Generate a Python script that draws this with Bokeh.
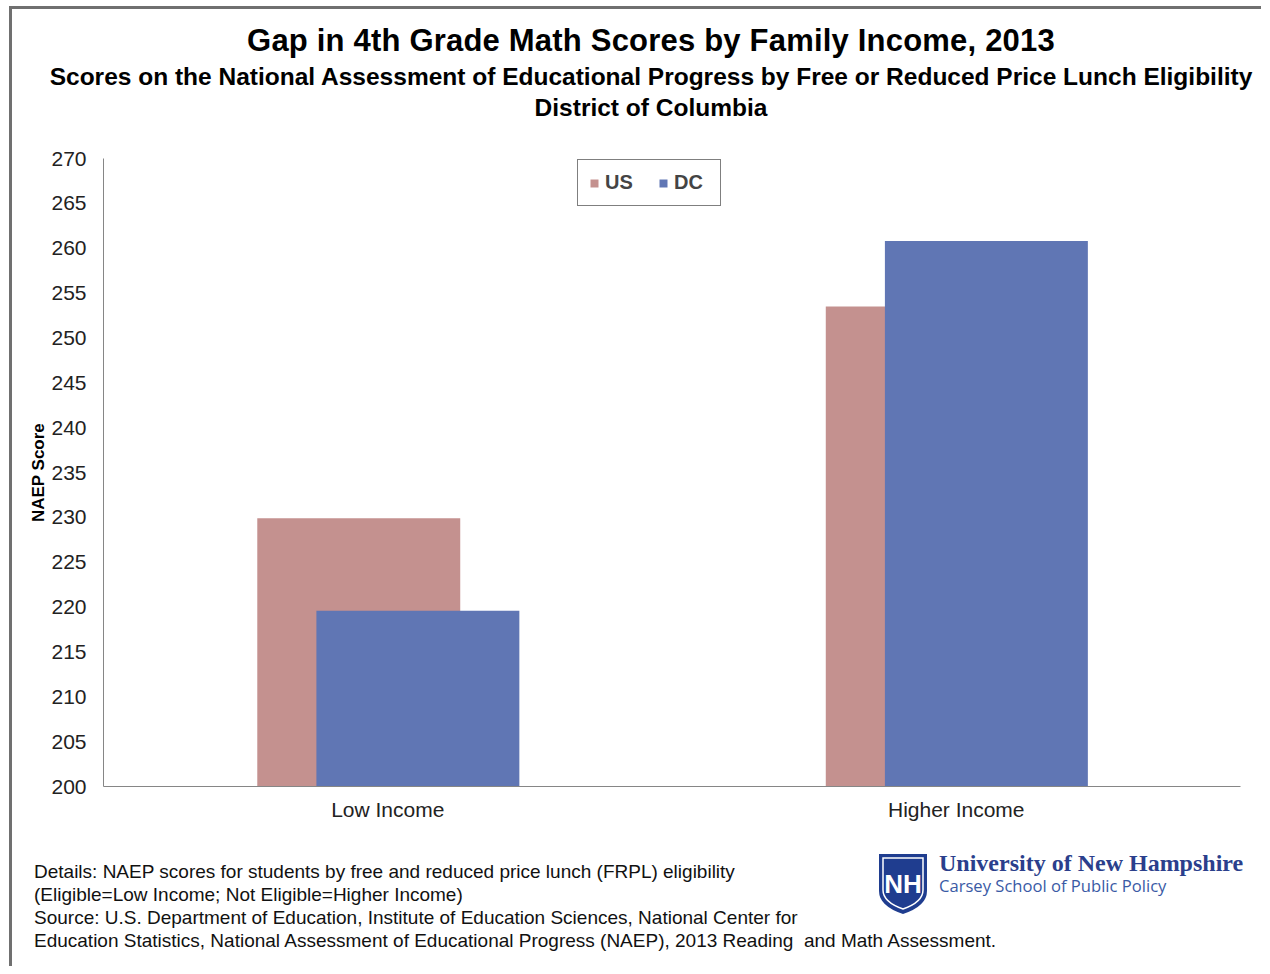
from bokeh.plotting import figure
from bokeh.models import Range1d, FactorRange, FixedTicker, Div, ColumnDataSource
from bokeh.layouts import column
from bokeh.transform import dodge
from bokeh.embed import file_html
from bokeh.resources import INLINE

# ---- data ----
categories = ["Low Income", "Higher Income"]
us_scores = [229.9, 253.5]
dc_scores = [219.6, 260.8]
y_ticks = [200, 205, 210, 215, 220, 225, 230, 235, 240, 245, 250, 255, 260, 265, 270]
series_names = ["US", "DC"]
title_text = "Gap in 4th Grade Math Scores by Family Income, 2013"
subtitle_lines = [
    "Scores on the National Assessment of Educational Progress by Free or Reduced Price Lunch Eligibility",
    "District of Columbia",
]
footer_lines = [
    "Details: NAEP scores for students by free and reduced price lunch (FRPL) eligibility",
    "(Eligible=Low Income; Not Eligible=Higher Income)",
    "Source: U.S. Department of Education, Institute of Education Sciences, National Center for",
    "Education Statistics, National Assessment of Educational Progress (NAEP), 2013 Reading&nbsp; and Math Assessment.",
]

US_COLOR = "#C4918F"
DC_COLOR = "#6076B4"
FONT = "Liberation Sans"

# ---- title block ----
title_html = f"""
<div style="position:relative;width:1249px;height:139px;font-family:'{FONT}';color:#000;">
  <div style="position:absolute;left:19px;width:1240px;top:13px;text-align:center;font-weight:bold;font-size:31px;line-height:37px;white-space:nowrap;letter-spacing:0.2px;">{title_text}</div>
  <div style="position:absolute;left:19px;width:1240px;top:53px;text-align:center;font-weight:bold;font-size:24.5px;line-height:30px;white-space:nowrap;">{subtitle_lines[0]}</div>
  <div style="position:absolute;left:19px;width:1240px;top:84px;text-align:center;font-weight:bold;font-size:24.5px;line-height:30px;white-space:nowrap;">{subtitle_lines[1]}</div>
</div>
"""
title_div = Div(text=title_html, width=1249, height=139, margin=0)

# ---- chart ----
p = figure(
    x_range=FactorRange(factors=categories),
    y_range=Range1d(200, 270),
    width=1249, height=692,
    output_backend="svg", toolbar_location=None,
    min_border_left=91, min_border_right=21, min_border_top=10, min_border_bottom=54,
    outline_line_color=None,
)
p.background_fill_color = "white"
p.border_fill_color = "white"

src = ColumnDataSource(dict(cat=categories, us=us_scores, dc=dc_scores))

p.vbar(x=dodge("cat", -0.051, range=p.x_range), top="us", bottom=200, width=0.357,
       source=src, fill_color=US_COLOR, line_color=None, legend_label=series_names[0])
p.vbar(x=dodge("cat", 0.053, range=p.x_range), top="dc", bottom=200, width=0.357,
       source=src, fill_color=DC_COLOR, line_color=None, legend_label=series_names[1])

p.xgrid.grid_line_color = None
p.ygrid.grid_line_color = None

for ax in (p.xaxis[0], p.yaxis[0]):
    ax.axis_line_color = "#868686"
    ax.axis_line_width = 1
    ax.major_tick_line_color = None
    ax.minor_tick_line_color = None
    ax.major_tick_out = 0
    ax.major_tick_in = 0
    ax.minor_tick_out = 0
    ax.major_label_text_font = FONT
    ax.major_label_text_font_size = "21px"
    ax.major_label_text_color = "#222222"

p.yaxis[0].ticker = FixedTicker(ticks=y_ticks)
p.yaxis[0].major_label_standoff = 17
p.yaxis[0].axis_label = "NAEP Score"
p.yaxis[0].axis_label_text_font = FONT
p.yaxis[0].axis_label_text_font_style = "bold"
p.yaxis[0].axis_label_text_font_size = "17px"
p.yaxis[0].axis_label_text_color = "#000000"
p.yaxis[0].axis_label_standoff = 0

p.xaxis[0].major_label_standoff = 11

lg = p.legend[0]
lg.orientation = "horizontal"
lg.location = (474, 580)
lg.margin = 0
lg.padding = 11
lg.spacing = 18
lg.label_standoff = 6
lg.label_width = 35
lg.glyph_width = 10
lg.glyph_height = 10
lg.label_text_font = FONT
lg.label_text_font_style = "bold"
lg.label_text_font_size = "20px"
lg.label_height = 11
lg.border_line_color = "black"
lg.border_line_width = 1
lg.background_fill_alpha = 1

# ---- footer ----
lines_html = "".join(
    f'<div style="position:absolute;left:22px;top:{20 + 23*i}px;white-space:nowrap;">{t}</div>'
    for i, t in enumerate(footer_lines)
)
footer_html = f"""
<div style="position:relative;width:1249px;height:126px;font-family:'{FONT}';font-size:19px;line-height:23px;color:#111;">
  {lines_html}
  <svg style="position:absolute;left:866px;top:13px;" width="50" height="62" viewBox="0 0 50 62">
    <path d="M1,1 H49 V38 Q49,53 25,61 Q1,53 1,38 Z" fill="#1F3D8F"/>
    <path d="M5,5 H45 V37 Q45,49 25,56 Q5,49 5,37 Z" fill="none" stroke="white" stroke-width="1.5"/>
    <text x="25" y="40" text-anchor="middle" font-family="Liberation Sans" font-weight="bold" font-size="26" fill="white">NH</text>
  </svg>
  <div style="position:absolute;left:927px;top:8px;white-space:nowrap;font-family:'Liberation Serif';font-weight:bold;font-size:24px;line-height:30px;color:#2B3F8C;">University of New Hampshire</div>
  <div style="position:absolute;left:927px;top:35px;white-space:nowrap;font-family:'Open Sans';font-size:16.6px;line-height:22px;color:#3A5AA5;">Carsey School of Public Policy</div>
</div>
"""
footer_div = Div(text=footer_html, width=1249, height=126, margin=0)

layout = column(title_div, p, footer_div, margin=(6, 0, 0, 9),
                styles={"border-left": "3px solid #707070", "border-top": "3px solid #707070"})

open("out.html", "w").write(file_html(layout, INLINE))
